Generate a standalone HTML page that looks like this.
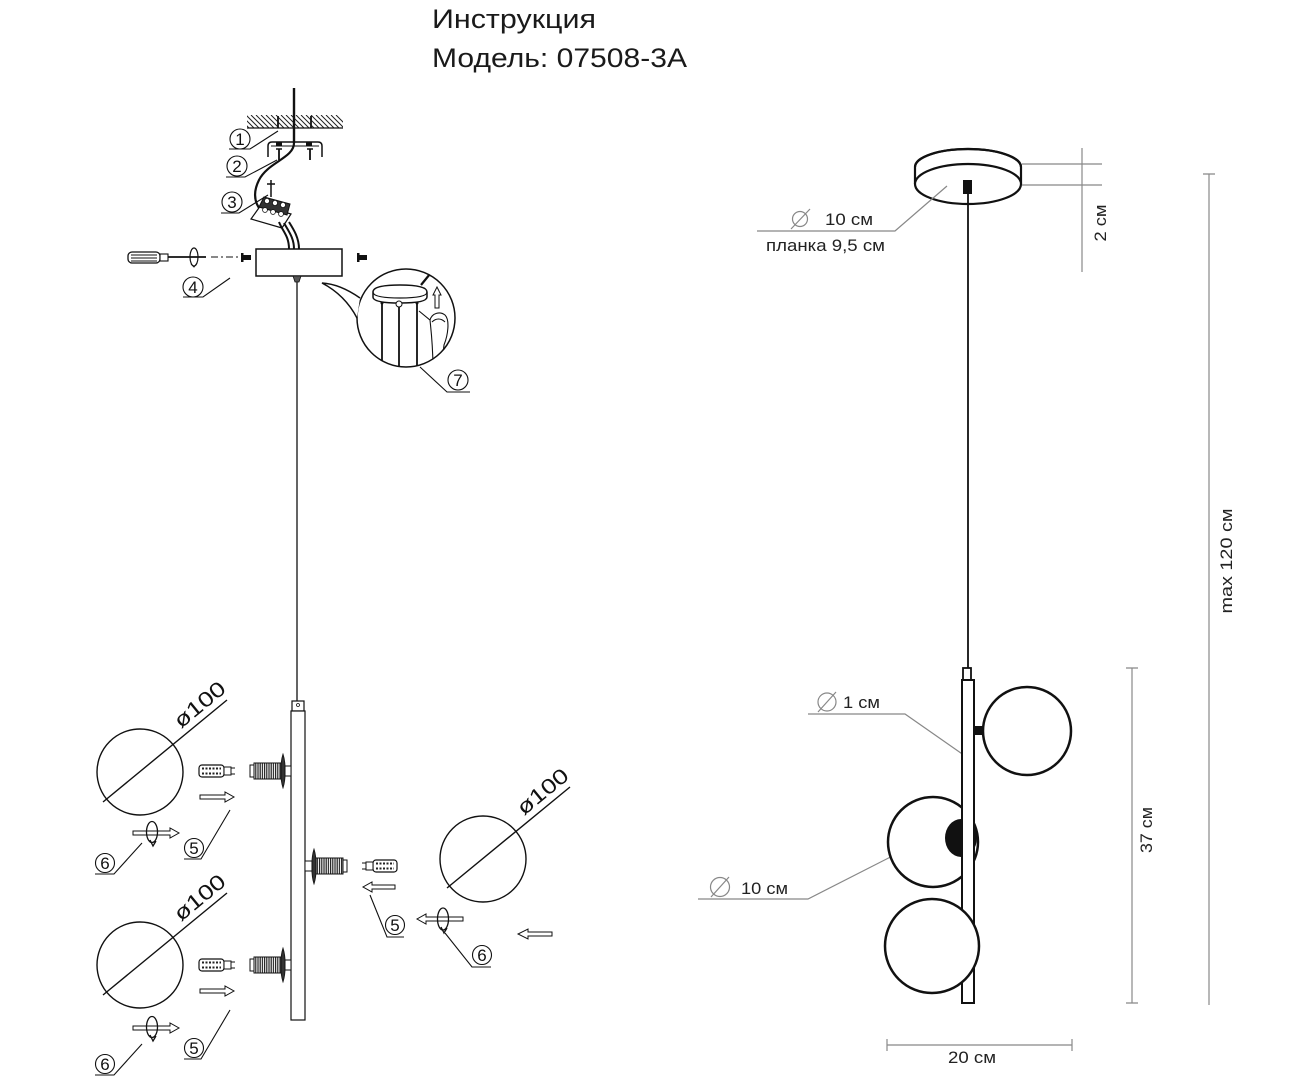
<!DOCTYPE html>
<html><head><meta charset="utf-8"><style>
html,body{margin:0;padding:0;background:#fff;}
svg{display:block;}
text{font-family:"Liberation Sans",sans-serif;}
</style></head><body>
<svg width="1296" height="1080" viewBox="0 0 1296 1080" xmlns="http://www.w3.org/2000/svg">
<defs>
<pattern id="thr" width="2.2" height="4" patternUnits="userSpaceOnUse"><rect width="2.2" height="4" fill="#fff"/><rect width="1.2" height="4" fill="#222"/></pattern>
<clipPath id="cc"><circle cx="406" cy="318" r="49"/></clipPath>
<clipPath id="hc"><rect x="247" y="115" width="96" height="13"/></clipPath>
</defs>

<!-- Title -->
<text x="432" y="28" font-size="27" textLength="164" lengthAdjust="spacingAndGlyphs" fill="#1a1a1a">Инструкция</text>
<text x="432" y="67" font-size="27" textLength="255" lengthAdjust="spacingAndGlyphs" fill="#1a1a1a">Модель: 07508-3A</text>

<!-- ===== LEFT: mounting ===== -->
<g clip-path="url(#hc)" stroke="#222" stroke-width="1" fill="none">
<path d="M236 115l13 13M241 115l13 13M246 115l13 13M251 115l13 13M256 115l13 13M261 115l13 13M266 115l13 13M271 115l13 13M276 115l13 13M281 115l13 13M286 115l13 13M291 115l13 13M296 115l13 13M301 115l13 13M306 115l13 13M311 115l13 13M316 115l13 13M321 115l13 13M326 115l13 13M331 115l13 13M336 115l13 13"/>
</g>
<path d="M247 128H343" stroke="#111" stroke-width="1.3" fill="none"/>
<path d="M278 116V128M311 116V128" stroke="#111" stroke-width="1.8"/>
<path d="M294 88V143" stroke="#111" stroke-width="2.4" fill="none"/>
<path d="M294 143C294 158 268 162 259 180C253 192 254 203 262 212" stroke="#111" stroke-width="2.2" fill="none"/>
<!-- bracket -->
<path d="M268 157V146Q268 142 272 142H318Q322 142 322 146V157" stroke="#111" stroke-width="1.5" fill="none"/>
<path d="M271 146H319" stroke="#111" stroke-width="1"/>
<rect x="276" y="142" width="6" height="4" fill="#111"/><rect x="306" y="142" width="6" height="4" fill="#111"/>
<path d="M279 149V160M310 149V160" stroke="#111" stroke-width="1.8"/>
<path d="M276 149H282M307 149H313" stroke="#111" stroke-width="1.5"/>
<!-- labels 1 2 3 -->
<g stroke="#111" stroke-width="1.1" fill="none">
<circle cx="240" cy="139" r="10"/><path d="M229 149H250L278 131"/>
<circle cx="237" cy="166" r="10"/><path d="M226 177H245L277 160"/>
<circle cx="232" cy="202" r="10"/><path d="M221 213H239L268 195"/>
</g>
<g font-size="17" text-anchor="middle" fill="#111">
<text x="240" y="145">1</text><text x="237" y="172">2</text><text x="232" y="208">3</text>
</g>
<!-- terminal block -->
<path d="M271 180V197M267 184H275" stroke="#111" stroke-width="1.5"/>
<polygon points="251,219 261,205 291,214 282,228" fill="#fff" stroke="#111" stroke-width="1.2"/>
<polygon points="259,207 264,197 290,204 287,215" fill="#333" stroke="#111" stroke-width="1"/>
<g fill="#fff" stroke="#111" stroke-width="0.8">
<circle cx="267" cy="201" r="2.6"/><circle cx="275" cy="203" r="2.6"/><circle cx="283" cy="205" r="2.6"/>
<circle cx="265" cy="210" r="2.4"/><circle cx="273" cy="212" r="2.4"/><circle cx="281" cy="214" r="2.4"/>
</g>
<g stroke="#111" stroke-width="2" fill="none">
<path d="M279 222C283 232 289 236 289 249"/>
<path d="M284 223C289 232 294 238 294 249"/>
<path d="M289 222C294 230 299 238 299 249"/>
</g>
<!-- canopy -->
<rect x="256" y="249" width="86" height="27" fill="#fff" stroke="#111" stroke-width="1.5"/>
<rect x="243" y="255" width="8" height="5" fill="#111"/><rect x="241" y="253" width="2.5" height="9" fill="#111"/>
<rect x="359" y="255" width="8" height="5" fill="#111"/><rect x="357" y="253" width="2.5" height="9" fill="#111"/>
<!-- screwdriver -->
<rect x="128" y="252" width="32" height="11" rx="4" fill="#fff" stroke="#111" stroke-width="1.3"/>
<path d="M131 255H157M131 258H157M131 261H157" stroke="#111" stroke-width="0.9"/>
<rect x="160" y="254" width="8" height="7" fill="#fff" stroke="#111" stroke-width="1.1"/>
<path d="M168 257H206" stroke="#111" stroke-width="1.8"/>
<ellipse cx="194" cy="257" rx="4" ry="9" fill="none" stroke="#111" stroke-width="1.2"/>
<path d="M191 264L194 267L197 263" stroke="#111" stroke-width="1" fill="none"/>
<path d="M211 257H239" stroke="#111" stroke-width="1" stroke-dasharray="7 3 2 3"/>
<g stroke="#111" stroke-width="1.1" fill="none"><circle cx="193" cy="287" r="10"/><path d="M183 297H203L230 278"/></g>
<text x="193" y="293" font-size="17" text-anchor="middle" fill="#111">4</text>
<!-- nub + cable -->
<path d="M293 276L295 282H299L301 276Z" fill="#555" stroke="#111" stroke-width="0.8"/>
<path d="M297 282V701" stroke="#111" stroke-width="1.3"/>

<!-- callout 7 -->
<circle cx="406" cy="318" r="49" fill="#fff" stroke="#111" stroke-width="1.5"/>
<path d="M360 298Q340 284 322 283Q345 295 357 318" fill="#fff" stroke="#111" stroke-width="1.5"/>
<g clip-path="url(#cc)" stroke="#111" fill="none">
<path d="M373 292Q373 285 400 285Q427 285 427 292V297Q427 303 400 303Q373 303 373 297Z" fill="#fff" stroke-width="1.5"/>
<path d="M373 292Q373 298 400 298Q427 298 427 292" stroke-width="1.2"/>
<path d="M382 303V370M399 306V370M417 303V370" stroke-width="1.8"/>
<path d="M421 285L434 269" stroke-width="2.2"/>
<path d="M435 308V295H433L437 287L441 295H439V308Z" fill="#fff" stroke-width="1"/>
<path d="M419 311L430 320C432 313 440 311 445 315C450 320 448 335 444 345L441 370M430 320C431 330 433 345 433 370M432 322C436 318 441 318 445 322" stroke-width="1.1"/>
</g>
<circle cx="399" cy="304" r="3" fill="#fff" stroke="#111" stroke-width="1"/>
<circle cx="382" cy="303" r="1.5" fill="#111"/><circle cx="417" cy="303" r="1.5" fill="#111"/>
<g stroke="#111" stroke-width="1.1" fill="none"><circle cx="458" cy="380" r="10"/><path d="M420 367L447 392H470"/></g>
<text x="458" y="386" font-size="17" text-anchor="middle" fill="#111">7</text>

<!-- ===== LEFT: bar assembly ===== -->
<rect x="292" y="701" width="12" height="10" fill="#fff" stroke="#111" stroke-width="1.2"/>
<circle cx="298" cy="705" r="1.5" fill="none" stroke="#111" stroke-width="0.8"/>
<rect x="291" y="711" width="14" height="309" fill="#fff" stroke="#111" stroke-width="1.2"/>

<!-- socket group 1 cy=771 -->
<g>
<path d="M283 754C280 763 280 779 283 788C286 779 286 763 283 754Z" fill="#333" stroke="#111" stroke-width="0.8"/>
<rect x="285" y="766" width="6" height="10" fill="#fff" stroke="#111" stroke-width="1"/>
<rect x="254" y="763" width="27" height="16" fill="url(#thr)" stroke="#111" stroke-width="1"/>
<rect x="250" y="765" width="4" height="12" fill="#fff" stroke="#111" stroke-width="1"/>
<rect x="199" y="765" width="25" height="12" rx="3" fill="#fff" stroke="#111" stroke-width="1.2"/>
<path d="M202 768.5H221M202 773.5H221" stroke="#222" stroke-width="2" stroke-dasharray="2 1.5"/>
<rect x="224" y="767" width="7" height="8" fill="#fff" stroke="#111" stroke-width="1"/>
<path d="M231 768H235M231 774H235" stroke="#111" stroke-width="1"/>
<path d="M200 795H225V792L234 797L225 802V799H200Z" fill="#fff" stroke="#111" stroke-width="1"/>
</g>
<g transform="translate(0,194)">
<path d="M283 754C280 763 280 779 283 788C286 779 286 763 283 754Z" fill="#333" stroke="#111" stroke-width="0.8"/>
<rect x="285" y="766" width="6" height="10" fill="#fff" stroke="#111" stroke-width="1"/>
<rect x="254" y="763" width="27" height="16" fill="url(#thr)" stroke="#111" stroke-width="1"/>
<rect x="250" y="765" width="4" height="12" fill="#fff" stroke="#111" stroke-width="1"/>
<rect x="199" y="765" width="25" height="12" rx="3" fill="#fff" stroke="#111" stroke-width="1.2"/>
<path d="M202 768.5H221M202 773.5H221" stroke="#222" stroke-width="2" stroke-dasharray="2 1.5"/>
<rect x="224" y="767" width="7" height="8" fill="#fff" stroke="#111" stroke-width="1"/>
<path d="M231 768H235M231 774H235" stroke="#111" stroke-width="1"/>
<path d="M200 795H225V792L234 797L225 802V799H200Z" fill="#fff" stroke="#111" stroke-width="1"/>
</g>

<!-- middle socket cy=866 (mirrored) -->
<path d="M314 849C317 858 317 875 314 884C311 875 311 858 314 849Z" fill="#333" stroke="#111" stroke-width="0.8"/>
<rect x="305" y="861" width="7" height="10" fill="#fff" stroke="#111" stroke-width="1"/>
<rect x="316" y="858" width="27" height="16" fill="url(#thr)" stroke="#111" stroke-width="1"/>
<rect x="343" y="860" width="4" height="12" fill="#fff" stroke="#111" stroke-width="1"/>
<rect x="373" y="860" width="24" height="12" rx="3" fill="#fff" stroke="#111" stroke-width="1.2"/>
<path d="M376 863.5H394M376 868.5H394" stroke="#222" stroke-width="2" stroke-dasharray="2 1.5"/>
<rect x="366" y="862" width="7" height="8" fill="#fff" stroke="#111" stroke-width="1"/>
<path d="M362 863H366M362 869H366" stroke="#111" stroke-width="1"/>
<path d="M395 885H372V882L363 887L372 892V889H395Z" fill="#fff" stroke="#111" stroke-width="1"/>

<!-- spheres left -->
<g fill="none" stroke="#111" stroke-width="1.4">
<circle cx="140" cy="772" r="43"/>
<path d="M103 802L227 700"/>
<circle cx="140" cy="965" r="43"/>
<path d="M103 995L227 893"/>
<circle cx="483" cy="859" r="43"/>
<path d="M447 888L570 787"/>
</g>
<g font-size="21" fill="#111">
<text transform="translate(181,729) rotate(-39.4)" textLength="60" lengthAdjust="spacingAndGlyphs">ø100</text>
<text transform="translate(181,922) rotate(-39.4)" textLength="60" lengthAdjust="spacingAndGlyphs">ø100</text>
<text transform="translate(524,816) rotate(-39.4)" textLength="60" lengthAdjust="spacingAndGlyphs">ø100</text>
</g>

<!-- rotation arrows -->
<g fill="#fff" stroke="#111" stroke-width="1">
<path d="M133 831H170V828L179 833L170 838V835H133Z"/>
<path d="M133 1026H170V1023L179 1028L170 1033V1030H133Z"/>
<path d="M463 917H426V914L417 919L426 924V921H463Z"/>
<path d="M552 932H528V929L518 934L528 939V936H552Z"/>
</g>
<g fill="none" stroke="#111" stroke-width="1.3">
<ellipse cx="152" cy="832" rx="5.5" ry="10.5"/><path d="M150 840L153 846L156 841"/>
<ellipse cx="152" cy="1027" rx="5.5" ry="10.5"/><path d="M150 1035L153 1041L156 1036"/>
<ellipse cx="443" cy="919" rx="5.5" ry="11"/><path d="M441 927L444 933L447 928"/>
</g>

<!-- labels 5 6 -->
<g stroke="#111" stroke-width="1.1" fill="none">
<circle cx="194" cy="848" r="9.5"/><path d="M184 859H201L230 810"/>
<circle cx="105" cy="863" r="9.5"/><path d="M95 874H114L142 843"/>
<circle cx="194" cy="1048" r="9.5"/><path d="M184 1059H201L230 1010"/>
<circle cx="105" cy="1064" r="9.5"/><path d="M95 1075H114L142 1044"/>
<circle cx="395" cy="925" r="9.5"/><path d="M370 895L387 937H404"/>
<circle cx="482" cy="955" r="9.5"/><path d="M445 933L472 967H491"/>
</g>
<g font-size="17" text-anchor="middle" fill="#111">
<text x="194" y="854">5</text><text x="105" y="869">6</text>
<text x="194" y="1054">5</text><text x="105" y="1070">6</text>
<text x="395" y="931">5</text><text x="482" y="961">6</text>
</g>

<!-- ===== RIGHT drawing ===== -->
<path d="M915 167A53 18 0 0 1 1021 167V184M915 167V184" fill="#fff" stroke="#111" stroke-width="2.2"/>
<ellipse cx="968" cy="184" rx="53" ry="20" fill="#fff" stroke="#111" stroke-width="2.2"/>
<path d="M915 167A53 18 0 0 1 1021 167" fill="none" stroke="#111" stroke-width="2.2"/>
<rect x="963" y="180" width="9" height="14" fill="#111"/>
<path d="M968 194V668" stroke="#111" stroke-width="1.8"/>

<g stroke="#888" stroke-width="1.2" fill="none">
<path d="M947 186L895 231H757"/>
<circle cx="800" cy="219" r="7.5"/><path d="M791 229L810 209"/>
<path d="M1022 164H1102M1022 185H1102M1082 148V272"/>
<path d="M1209 174V1005M1203 174H1215"/>
<path d="M1132 668V1003M1126 668H1138M1126 1003H1138"/>
<path d="M887 1045H1072M887 1039V1051M1072 1039V1051"/>
<path d="M968 758L905 714H808"/>
<circle cx="827" cy="702" r="9"/><path d="M818 712L836 692"/>
<path d="M918 843L808 899H698"/>
<circle cx="720" cy="887" r="9.5"/><path d="M711 897L729 877"/>
</g>
<g font-size="17" fill="#222">
<text x="825" y="225" textLength="48" lengthAdjust="spacingAndGlyphs">10 см</text>
<text x="766" y="251" textLength="119" lengthAdjust="spacingAndGlyphs">планка 9,5 см</text>
<text x="843" y="708" textLength="37" lengthAdjust="spacingAndGlyphs">1 см</text>
<text x="741" y="894" textLength="47" lengthAdjust="spacingAndGlyphs">10 см</text>
<text x="972" y="1063" text-anchor="middle" textLength="48" lengthAdjust="spacingAndGlyphs">20 см</text>
<text transform="translate(1106,223) rotate(-90)" text-anchor="middle" textLength="37" lengthAdjust="spacingAndGlyphs">2 см</text>
<text transform="translate(1152,830) rotate(-90)" text-anchor="middle" textLength="46" lengthAdjust="spacingAndGlyphs">37 см</text>
<text transform="translate(1232,561) rotate(-90)" text-anchor="middle" textLength="105" lengthAdjust="spacingAndGlyphs">max 120 см</text>
</g>

<!-- pendant -->
<rect x="963" y="668" width="8" height="12" fill="#fff" stroke="#111" stroke-width="1.8"/>
<circle cx="933" cy="842" r="45" fill="#fff" stroke="#111" stroke-width="2.5"/>
<ellipse cx="961" cy="838" rx="16" ry="19" fill="#111"/>
<rect x="962" y="680" width="12" height="323" fill="#fff" stroke="#111" stroke-width="2"/>
<circle cx="932" cy="946" r="47" fill="#fff" stroke="#111" stroke-width="2.5"/>
<circle cx="1027" cy="731" r="44" fill="#fff" stroke="#111" stroke-width="2.5"/>
<rect x="974" y="726" width="9" height="9" fill="#111"/>
</svg>
</body></html>
